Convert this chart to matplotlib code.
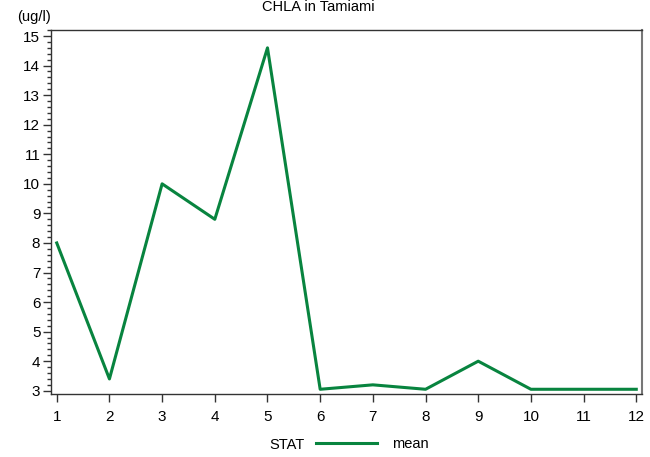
import matplotlib
matplotlib.use('Agg')
import matplotlib.pyplot as plt
from matplotlib.ticker import MultipleLocator

plt.rcParams['font.family'] = ['Liberation Sans', 'DejaVu Sans']

months = [1, 2, 3, 4, 5, 6, 7, 8, 9, 10, 11, 12]
chla_mean = [8.0, 3.4, 10.0, 8.8, 14.6, 3.05, 3.2, 3.05, 4.0, 3.05, 3.05, 3.05]

fig = plt.figure(figsize=(6.5, 4.57), dpi=100)
ax = fig.add_axes([0.0792, 0.1372, 0.9078, 0.7982])

line, = ax.plot(months, chla_mean, color='#08843f', linewidth=2.2, label='mean')

ax.set_xlim(0.9, 12.1)
ax.set_ylim(2.88, 15.22)
ax.xaxis.set_major_locator(MultipleLocator(1))
ax.yaxis.set_major_locator(MultipleLocator(1))
ax.yaxis.set_minor_locator(MultipleLocator(0.2))
ax.tick_params(axis='both', which='major', direction='out', length=6, width=1,
               color='#333333', labelsize=11)
ax.tick_params(axis='y', which='major', pad=2)
ax.tick_params(axis='x', which='major', pad=5)
ax.tick_params(axis='y', which='minor', direction='out', length=3, width=1, color='#333333')
ax.tick_params(axis='x', which='minor', length=0)
for s in ax.spines.values():
    s.set_color('#333333')
    s.set_linewidth(1)
ax.spines['right'].set_color('#777777')
ax.spines['right'].set_linewidth(1.5)

fig.text(0.49, 0.984, 'CHLA in Tamiami', ha='center', va='center', fontsize=10.5)
fig.text(0.052, 0.963, '(ug/l)', ha='center', va='center', fontsize=10.5)

# legend row at the bottom
fig.text(0.415, 0.026, 'STAT', ha='left', va='center', fontsize=10.5)
ax.legend(handles=[line], loc='center left', bbox_to_anchor=(0.475, 0.028),
          bbox_transform=fig.transFigure, frameon=False, fontsize=10.5,
          handlelength=4.2, handletextpad=1.0, borderpad=0)

fig.savefig('out.png', dpi=100)
